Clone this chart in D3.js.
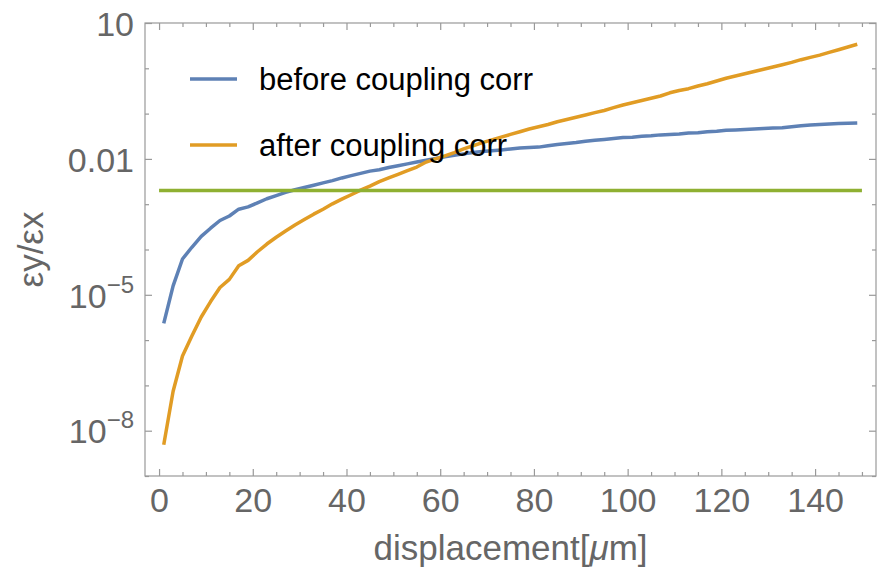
<!DOCTYPE html>
<meta charset="utf-8">
<style>

body {
  margin: 0;
  background: #fff;
}

text {
  font-family: "Liberation Sans", Arial, sans-serif;
}

.tick text {
  font-size: 34px;
  fill: #666;
}

.tick line {
  stroke: #999;
  stroke-width: 1.2;
}

.axis-title {
  font-size: 35px;
  fill: #666;
}

.legend text {
  font-size: 31px;
  fill: #000;
}

</style>
<body>
<script src="https://d3js.org/d3.v7.min.js"></script>
<script>

// displacement in micrometres, one sample every 2 um
var displacement = [1, 3, 5, 7, 9, 11, 13, 15, 17, 19, 21, 23, 25, 27, 29,
	31, 33, 35, 37, 39, 41, 43, 45, 47, 49, 51, 53, 55, 57, 59,
	61, 63, 65, 67, 69, 71, 73, 75, 77, 79, 81, 83, 85, 87, 89,
	91, 93, 95, 97, 99, 101, 103, 105, 107, 109, 111, 113, 115, 117, 119,
	121, 123, 125, 127, 129, 131, 133, 135, 137, 139, 141, 143, 145, 147, 149];

// emittance ratio before coupling correction
var beforeCorr = [2.34e-6, 1.58e-5, 6.17e-5, 1.12e-4, 1.95e-4, 2.95e-4, 4.37e-4, 5.50e-4, 7.76e-4, 8.71e-4,
	1.07e-3, 1.32e-3, 1.55e-3, 1.82e-3, 2.09e-3, 2.34e-3, 2.63e-3, 2.95e-3, 3.31e-3, 3.80e-3,
	4.27e-3, 4.79e-3, 5.37e-3, 5.75e-3, 6.46e-3, 7.08e-3, 7.76e-3, 8.51e-3, 9.33e-3, 1.02e-2,
	1.12e-2, 1.20e-2, 1.29e-2, 1.38e-2, 1.45e-2, 1.51e-2, 1.58e-2, 1.66e-2, 1.74e-2, 1.78e-2,
	1.82e-2, 1.95e-2, 2.09e-2, 2.19e-2, 2.29e-2, 2.45e-2, 2.57e-2, 2.69e-2, 2.82e-2, 2.95e-2,
	3.02e-2, 3.16e-2, 3.24e-2, 3.39e-2, 3.47e-2, 3.55e-2, 3.72e-2, 3.80e-2, 3.98e-2, 4.07e-2,
	4.27e-2, 4.37e-2, 4.47e-2, 4.57e-2, 4.68e-2, 4.79e-2, 4.90e-2, 5.13e-2, 5.37e-2, 5.62e-2,
	5.75e-2, 5.89e-2, 6.03e-2, 6.10e-2, 6.17e-2];

// emittance ratio after coupling correction
var afterCorr = [4.90e-9, 7.41e-8, 4.47e-7, 1.23e-6, 3.24e-6, 7.08e-6, 1.45e-5, 2.19e-5, 4.37e-5, 5.75e-5,
	8.91e-5, 1.32e-4, 1.86e-4, 2.57e-4, 3.47e-4, 4.57e-4, 6.03e-4, 7.76e-4, 1.02e-3, 1.29e-3,
	1.62e-3, 2.04e-3, 2.51e-3, 3.16e-3, 3.80e-3, 4.57e-3, 5.50e-3, 6.61e-3, 8.51e-3, 1.00e-2,
	1.17e-2, 1.38e-2, 1.66e-2, 1.95e-2, 2.29e-2, 2.63e-2, 3.02e-2, 3.47e-2, 3.98e-2, 4.57e-2,
	5.13e-2, 5.75e-2, 6.61e-2, 7.41e-2, 8.32e-2, 9.33e-2, 0.105, 0.117, 0.135, 0.155,
	0.174, 0.195, 0.219, 0.245, 0.288, 0.324, 0.355, 0.407, 0.457, 0.525,
	0.603, 0.676, 0.759, 0.851, 0.955, 1.07, 1.20, 1.35, 1.55, 1.74,
	1.95, 2.24, 2.57, 2.95, 3.39];

// target ratio (horizontal reference line)
var targetX = [0, 150],
	targetRatio = [0.002, 0.002];

var seriesNames = ["before coupling corr", "after coupling corr"],
	seriesColors = ["#5e81b5", "#e19c24"],
	targetColor = "#8fb032";

var xMajorTicks = [0, 20, 40, 60, 80, 100, 120, 140],
	xMinorTicks = [5, 10, 15, 25, 30, 35, 45, 50, 55, 65, 70, 75, 85, 90, 95,
		105, 110, 115, 125, 130, 135, 145, 150],
	yMajorTicks = [1e-8, 1e-5, 1e-2, 10],
	yTickBase = ["10", "10", "0.01", "10"],
	yTickSup = ["\u22128", "\u22125", "", ""],
	yMinorTicks = [1e-9, 1e-7, 1e-6, 1e-4, 1e-3, 1e-1, 1];

var width = 879,
	height = 571,
	margin = {left: 145, right: 3, top: 23, bottom: 95},
	x0 = margin.left,
	x1 = width - margin.right,
	y0 = margin.top,
	y1 = height - margin.bottom;

var svg = d3.select("body").append("svg")
	.attr("width", width)
	.attr("height", height);

var x = d3.scaleLinear().domain([-3, 153]).range([x0, x1]),
	y = d3.scaleLog().domain([1e-9, 10]).range([y1, y0]);

// frame ticks, all pointing inward
function drawAxis(axis, tx, ty) {
	var g = svg.append("g")
		.attr("transform", "translate(" + tx + "," + ty + ")")
		.call(axis);
	g.select(".domain").remove();
	return g;
}

drawAxis(d3.axisBottom(x).tickValues(xMajorTicks).tickSize(-7).tickPadding(12), 0, y1)
	.selectAll("text").attr("dy", "0.71em");
drawAxis(d3.axisBottom(x).tickValues(xMinorTicks).tickSize(-4).tickFormat(""), 0, y1);
drawAxis(d3.axisTop(x).tickValues(xMajorTicks).tickSize(-7).tickFormat(""), 0, y0);
drawAxis(d3.axisTop(x).tickValues(xMinorTicks).tickSize(-4).tickFormat(""), 0, y0);

var yLeft = drawAxis(d3.axisLeft(y).tickValues(yMajorTicks).tickSize(-7).tickPadding(11).tickFormat(""), x0, 0);
drawAxis(d3.axisLeft(y).tickValues(yMinorTicks).tickSize(-4).tickFormat(""), x0, 0);
drawAxis(d3.axisRight(y).tickValues(yMajorTicks).tickSize(-7).tickFormat(""), x1, 0);
drawAxis(d3.axisRight(y).tickValues(yMinorTicks).tickSize(-4).tickFormat(""), x1, 0);

yLeft.selectAll(".tick text")
	.attr("dy", "0.36em")
	.each(function(d, i) {
		var t = d3.select(this);
		t.append("tspan").text(yTickBase[i]);
		if (yTickSup[i]) {
			t.append("tspan")
				.attr("dy", -15)
				.style("font-size", "24px")
				.text(yTickSup[i]);
		}
	});

svg.append("rect")
	.attr("x", x0)
	.attr("y", y0)
	.attr("width", x1 - x0)
	.attr("height", y1 - y0)
	.attr("fill", "none")
	.attr("stroke", "#999")
	.attr("stroke-width", 1.2);

// curves
var line = d3.line()
	.x(function(d) { return x(d[0]); })
	.y(function(d) { return y(d[1]); });

[beforeCorr, afterCorr].forEach(function(values, k) {
	svg.append("path")
		.datum(d3.zip(displacement, values))
		.attr("d", line)
		.attr("fill", "none")
		.attr("stroke", seriesColors[k])
		.attr("stroke-width", 3.5)
		.attr("stroke-linejoin", "round");
});

svg.append("path")
	.datum(d3.zip(targetX, targetRatio))
	.attr("d", line)
	.attr("fill", "none")
	.attr("stroke", targetColor)
	.attr("stroke-width", 3.5);

// legend
var legend = svg.append("g")
	.attr("class", "legend")
	.selectAll("g")
	.data(seriesNames)
	.enter().append("g")
	.attr("transform", function(d, i) { return "translate(190," + (79 + i * 66) + ")"; });

legend.append("line")
	.attr("x2", 47)
	.attr("stroke", function(d, i) { return seriesColors[i]; })
	.attr("stroke-width", 3.5);

legend.append("text")
	.attr("x", 69)
	.attr("dy", "0.37em")
	.text(function(d) { return d; });

// axis titles
var xTitle = svg.append("text")
	.attr("class", "axis-title")
	.attr("x", (x0 + x1) / 2)
	.attr("y", 560)
	.attr("text-anchor", "middle");
xTitle.append("tspan").text("displacement[");
xTitle.append("tspan").style("font-style", "italic").text("\u03bc");
xTitle.append("tspan").text("m]");

svg.append("text")
	.attr("class", "axis-title")
	.attr("transform", "translate(43," + ((y0 + y1) / 2) + ") rotate(-90)")
	.attr("text-anchor", "middle")
	.text("\u03b5y/\u03b5x");

</script>
</body>
</html>
